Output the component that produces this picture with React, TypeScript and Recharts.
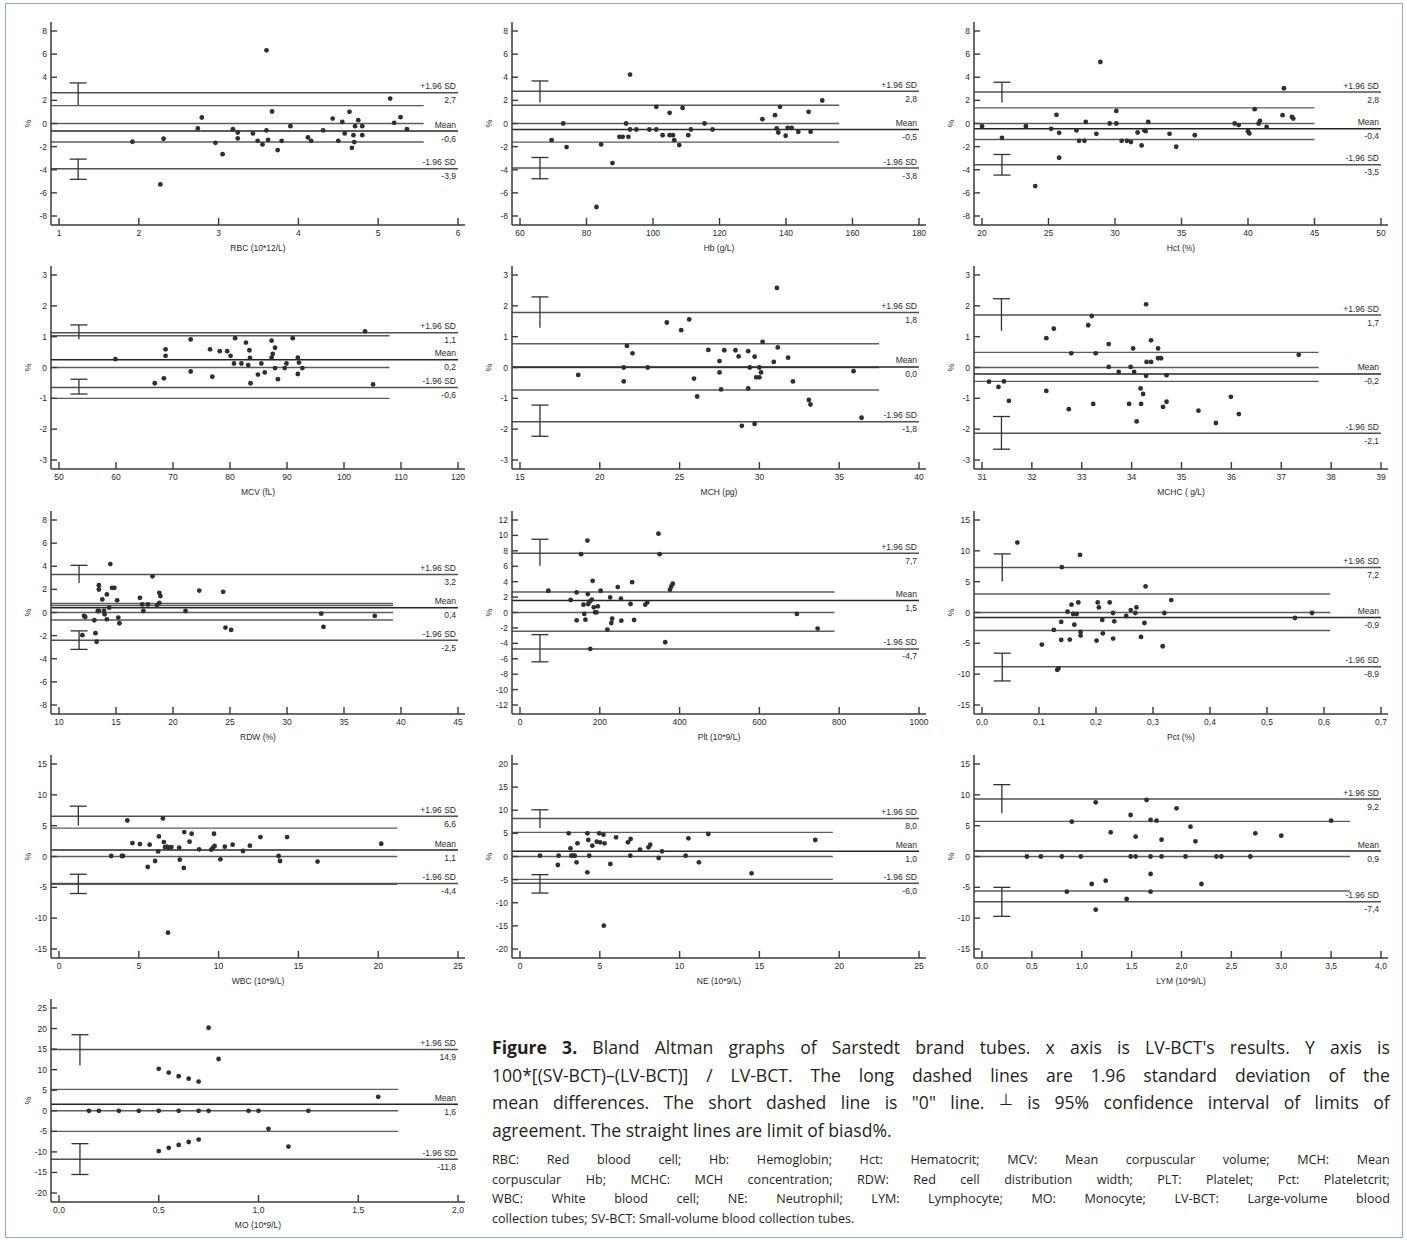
import React from 'react';
import { ScatterChart, Scatter, XAxis, YAxis, ReferenceLine, ReferenceDot } from 'recharts';

type P2 = [number, number];

// ---------- data ----------
const rbcPoints: P2[] = [[1.92,-1.58],[2.31,-1.32],[2.27,-5.27],[2.74,-0.43],[2.79,0.52],[2.96,-1.67],[3.05,-2.65],[3.18,-0.49],[3.24,-0.78],[3.24,-1.29],[3.43,-0.86],[3.49,-1.5],[3.55,-1.81],[3.6,-0.6],[3.6,6.33],[3.62,-1.41],[3.67,1.04],[3.74,-2.3],[3.79,-1.5],[3.9,-0.23],[4.12,-1.21],[4.16,-1.5],[4.31,-0.6],[4.43,0.43],[4.5,-1.5],[4.55,0.14],[4.58,-0.86],[4.64,1.01],[4.67,-2.1],[4.69,-1.01],[4.7,-1.61],[4.71,-0.23],[4.75,0.29],[4.8,-0.23],[4.8,-1.01],[5.15,2.16],[5.2,0.06],[5.28,0.55],[5.36,-0.49]];
const hbPoints: P2[] = [[69.5,-1.44],[73,0],[74,-2.04],[83,-7.22],[84.4,-1.81],[87.8,-3.42],[89.9,-1.15],[90.9,-1.15],[91.9,0],[92.6,-1.15],[93.1,-0.52],[93.1,4.23],[95,-0.52],[98.9,-0.52],[101,1.44],[101,-0.52],[102.9,-1.01],[105,0.92],[105,-1.01],[106,-1.01],[106.4,-1.44],[107.9,-1.87],[108.9,1.35],[110.6,-1.01],[111.4,-0.52],[115.5,0],[117.9,-0.52],[132.9,0.37],[136.7,0.72],[137.2,-0.43],[137.7,-0.78],[138.2,1.44],[139.9,-1.06],[140.5,-0.37],[141.7,-0.37],[143.7,-0.72],[146.8,1.01],[147.4,-0.72],[150.9,1.99]];
const hctPoints: P2[] = [[20,-0.23],[21.5,-1.24],[23.3,-0.23],[24,-5.41],[25.2,-0.46],[25.6,0.75],[25.8,-0.81],[25.8,-2.96],[27.1,-0.6],[27.3,-1.5],[27.7,-1.5],[27.8,0.14],[28.6,-0.89],[28.9,5.32],[29.6,0],[30.1,0],[30.1,1.09],[30.5,-1.5],[30.9,-1.5],[31.2,-1.61],[31.7,-0.78],[32,-1.9],[32.2,-0.58],[32.3,-0.66],[32.5,0.14],[34.1,-0.89],[34.6,-2.01],[36,-1.01],[39,0],[39.3,-0.14],[40,-0.66],[40.1,-0.86],[40.5,1.24],[40.8,0],[40.9,0.23],[41.4,-0.29],[42.6,0.72],[42.7,3.05],[43.3,0.58],[43.4,0.43]];
const mcvPoints: P2[] = [[59.9,0.27],[66.8,-0.51],[68.4,-0.35],[68.7,0.38],[68.7,0.59],[73.1,0.91],[73.1,-0.13],[76.5,0.59],[76.9,-0.3],[78.2,0.53],[79.5,0.53],[80.1,0.38],[80.7,0.13],[80.9,0.95],[82,0.13],[82.8,0.81],[83.2,0.08],[83.4,0.56],[83.5,0.31],[83.6,-0.51],[85.5,0.13],[84.9,-0.23],[86.1,-0.16],[87.3,0.87],[87.3,0.32],[87.5,0.44],[87.9,0.64],[87.9,-0.02],[88.4,-0.38],[89.6,-0.02],[89.9,0.13],[91,0.95],[91.9,0.32],[91.9,-0.21],[92.1,0.16],[92.7,-0.02],[103.7,1.17],[105.1,-0.55]];
const mchPoints: P2[] = [[18.65,-0.24],[21.5,0],[21.5,-0.45],[21.7,0.7],[22.05,0.46],[23,0],[24.2,1.46],[25.1,1.21],[25.6,1.56],[25.9,-0.36],[26.1,-0.94],[26.8,0.57],[27.5,-0.16],[27.5,0.21],[27.6,-0.71],[27.8,0.56],[28.5,0.56],[28.7,0.36],[28.9,-1.89],[29.3,-0.68],[29.3,0.53],[29.4,0],[29.7,0.35],[29.7,-1.83],[29.8,-0.32],[30,-0.32],[30,0],[30.1,-0.16],[30.2,0.83],[30.9,0.18],[31.1,2.58],[31.15,0.65],[31.8,0.32],[32.1,-0.45],[33.1,-1.05],[33.2,-1.2],[35.9,-0.12],[36.4,-1.63]];
const mchcPoints: P2[] = [[31.14,-0.46],[31.33,-0.63],[31.44,-0.45],[31.54,-1.08],[32.29,0.95],[32.29,-0.76],[32.44,1.26],[32.74,-1.35],[32.79,0.46],[33.13,1.37],[33.2,1.67],[33.23,-1.18],[33.28,0.46],[33.54,0.76],[33.54,0.02],[33.74,-0.14],[33.95,-1.18],[33.98,0.02],[34.03,0.62],[34.05,-0.14],[34.1,-1.75],[34.18,-0.68],[34.19,-1.18],[34.23,-0.86],[34.29,2.05],[34.29,-0.27],[34.3,0.18],[34.39,0.18],[34.39,0.88],[34.53,0.62],[34.53,0.3],[34.59,0.3],[34.63,-1.28],[34.7,-1.11],[34.7,-0.25],[35.34,-1.4],[35.69,-1.8],[35.99,-0.95],[36.15,-1.51],[37.35,0.41]];
const rdwPoints: P2[] = [[12.2,-0.3],[12.3,-0.39],[12.05,-1.96],[13.1,-0.67],[13.2,-1.79],[13.3,-2.53],[13.4,0.13],[13.5,0.13],[13.5,2.36],[13.5,1.99],[13.8,1.13],[13.95,0.13],[14,-0.16],[14.2,1.56],[14.2,-0.59],[14.4,0.42],[14.5,4.19],[14.65,2.13],[14.86,2.13],[15.1,1.05],[15.2,-0.44],[15.3,-0.93],[17.1,1.27],[17.3,0.7],[17.4,0.13],[17.8,0.7],[18.2,3.13],[18.6,0.64],[18.8,0.84],[18.8,1.7],[18.9,1.42],[21.1,0.13],[22.3,1.9],[24.4,1.79],[24.6,-1.3],[25.1,-1.51],[33,-0.1],[33.2,-1.25],[37.7,-0.3]];
const pltPoints: P2[] = [[71,2.82],[127,1.62],[142,2.61],[142,-1.01],[153,7.56],[159,1.01],[161,-0.19],[164,-0.93],[169,9.33],[170,2.39],[171,1.1],[175,1.44],[176,-4.72],[180,1.66],[182,4.11],[185,0.67],[188,0.02],[192,0.02],[195,0.8],[202,2.82],[219,-2.22],[226,1.96],[229,-1.36],[231,-0.8],[245,3.3],[253,1.79],[254,-1.06],[277,1.1],[281,3.94],[286,-0.97],[314,1.01],[319,1.31],[347,10.23],[350,7.56],[364,-3.86],[376,2.95],[379,3.38],[383,3.73],[694,-0.19],[746,-2.09]];
const pctPoints: P2[] = [[0.062,11.34],[0.105,-5.2],[0.126,-2.83],[0.132,-9.29],[0.134,-9.07],[0.139,-1.53],[0.139,-4.44],[0.14,7.35],[0.15,0.13],[0.154,-4.39],[0.157,1.27],[0.16,-0.24],[0.162,-1.97],[0.166,-0.24],[0.169,1.64],[0.172,9.34],[0.173,-3.15],[0.173,-3.74],[0.201,-4.55],[0.203,1.64],[0.205,0.83],[0.211,-1.21],[0.212,-3.37],[0.224,1.64],[0.23,-0.08],[0.23,-4.23],[0.232,-1.43],[0.253,-0.57],[0.261,0.4],[0.269,-0.08],[0.271,0.83],[0.279,-3.96],[0.285,-1.7],[0.287,4.23],[0.317,-5.47],[0.32,-0.08],[0.332,2.02],[0.549,-0.89],[0.579,-0.08]];
const wbcPoints: P2[] = [[3.27,0.08],[3.94,0.08],[4.01,0.08],[4.28,5.84],[4.6,2.18],[5.07,2.02],[5.56,-1.7],[5.68,1.91],[6.02,-0.73],[6.21,0.83],[6.26,3.26],[6.51,6.17],[6.57,2.34],[6.64,1.53],[6.76,1.59],[6.83,-12.36],[6.89,1.43],[7.04,1.53],[7.53,1.43],[7.57,-0.51],[7.82,-1.86],[7.85,3.96],[8.18,2.4],[8.31,3.69],[8.78,1.16],[9.54,1.1],[9.65,1.43],[9.71,3.69],[9.75,1.7],[10.11,-0.46],[10.39,1.59],[10.88,1.91],[11.53,0.89],[11.96,1.75],[12.62,3.15],[13.76,0.08],[13.85,-0.73],[14.29,3.15],[16.2,-0.83],[20.19,2.07]];
const nePoints: P2[] = [[1.25,0.18],[2.37,-1.84],[2.42,0.18],[3.05,5.01],[3.16,1.76],[3.22,0.18],[3.33,0.18],[3.43,0.18],[3.54,-1.26],[3.6,2.85],[4.22,5.01],[4.22,-3.42],[4.28,3.57],[4.34,0.18],[4.53,2.34],[4.81,3.21],[4.96,5.01],[5.02,3.06],[5.23,4.72],[5.3,2.85],[5.25,-14.95],[5.66,-1.62],[6.02,4.14],[6.76,3.06],[6.93,3.78],[6.91,0.18],[7.52,1.48],[8.05,1.98],[8.16,2.56],[8.69,-0.32],[8.9,1.12],[10.38,0.18],[10.55,3.93],[11.21,-1.26],[11.8,4.86],[14.51,-3.64],[18.5,3.57]];
const lymPoints: P2[] = [[0.45,0],[0.59,0],[0.8,0],[0.85,-5.7],[0.9,5.65],[0.99,0],[1.1,-4.46],[1.14,8.78],[1.14,-8.62],[1.24,-3.92],[1.29,3.92],[1.45,-6.89],[1.49,6.73],[1.49,0],[1.54,3.22],[1.54,0],[1.65,9.16],[1.69,0],[1.69,-2.84],[1.69,5.92],[1.69,-5.7],[1.75,5.81],[1.8,0],[1.8,2.73],[1.95,7.81],[2.04,0],[2.09,4.84],[2.14,2.46],[2.2,-4.46],[2.35,0],[2.4,0],[2.69,0],[2.74,3.76],[3,3.38],[3.5,5.81]];
const moPoints: P2[] = [[0.15,0],[0.2,0],[0.3,0],[0.4,0],[0.5,0],[0.6,0],[0.7,0],[0.75,0],[0.95,0],[1.0,0],[1.25,0],[0.5,10.2],[0.55,9.3],[0.6,8.4],[0.65,7.8],[0.7,7.1],[0.5,-9.8],[0.55,-9],[0.6,-8.3],[0.65,-7.6],[0.7,-7],[0.75,20.2],[0.8,12.6],[1.05,-4.4],[1.15,-8.7],[1.6,3.4]];

// tick arrays
const rbcXTicks = [1, 2, 3, 4, 5, 6];
const hbXTicks = [60, 80, 100, 120, 140, 160, 180];
const hctXTicks = [20, 25, 30, 35, 40, 45, 50];
const mcvXTicks = [50, 60, 70, 80, 90, 100, 110, 120];
const mchXTicks = [15, 20, 25, 30, 35, 40];
const mchcXTicks = [31, 32, 33, 34, 35, 36, 37, 38, 39];
const rdwXTicks = [10, 15, 20, 25, 30, 35, 40, 45];
const pltXTicks = [0, 200, 400, 600, 800, 1000];
const pctXTicks = [0, 0.1, 0.2, 0.3, 0.4, 0.5, 0.6, 0.7];
const wbcXTicks = [0, 5, 10, 15, 20, 25];
const neXTicks = [0, 5, 10, 15, 20, 25];
const lymXTicks = [0, 0.5, 1, 1.5, 2, 2.5, 3, 3.5, 4];
const moXTicks = [0, 0.5, 1, 1.5, 2];

const yTicks8 = [-8, -6, -4, -2, 0, 2, 4, 6, 8];
const yTicks3 = [-3, -2, -1, 0, 1, 2, 3];
const yTicks12 = [-12, -10, -8, -6, -4, -2, 0, 2, 4, 6, 8, 10, 12];
const yTicks15 = [-15, -10, -5, 0, 5, 10, 15];
const yTicks20 = [-20, -15, -10, -5, 0, 5, 10, 15, 20];
const yTicks25 = [-20, -15, -10, -5, 0, 5, 10, 15, 20, 25];

// [ +1.96 SD, mean, -1.96 SD ]
const rbcLimits = [2.65, -0.65, -3.92];
const hbLimits = [2.78, -0.52, -3.85];
const hctLimits = [2.72, -0.46, -3.57];
const mcvLimits = [1.13, 0.25, -0.65];
const mchLimits = [1.78, 0.02, -1.76];
const mchcLimits = [1.7, -0.21, -2.13];
const rdwLimits = [3.28, 0.42, -2.4];
const pltLimits = [7.69, 1.57, -4.72];
const pctLimits = [7.3, -0.83, -8.8];
const wbcLimits = [6.54, 1.05, -4.39];
const neLimits = [8.2, 1.12, -5.8];
const lymLimits = [9.32, 0.89, -7.32];
const moLimits = [14.9, 1.6, -11.8];

const rbcLimitText = ['2,7', '-0,6', '-3,9'];
const hbLimitText = ['2,8', '-0,5', '-3,8'];
const hctLimitText = ['2,8', '-0,4', '-3,5'];
const mcvLimitText = ['1,1', '0,2', '-0,6'];
const mchLimitText = ['1,8', '0,0', '-1,8'];
const mchcLimitText = ['1,7', '-0,2', '-2,1'];
const rdwLimitText = ['3,2', '0,4', '-2,5'];
const pltLimitText = ['7,7', '1,5', '-4,7'];
const pctLimitText = ['7,2', '-0,9', '-8,9'];
const wbcLimitText = ['6,6', '1,1', '-4,4'];
const neLimitText = ['8,0', '1,0', '-6,0'];
const lymLimitText = ['9,2', '0,9', '-7,4'];
const moLimitText = ['14,9', '1,6', '-11,8'];

// bias limit lines and zero line (shorter lines), with their right end
const rbcBias = [1.55, 0, -1.6];
const hbBias = [1.58, 0, -1.61];
const hctBias = [1.35, 0, -1.38];
const mcvBias = [1.03, 0, -1.0];
const mchBias = [0.77, 0, -0.73];
const mchcBias = [0.49, 0, -0.45];
const rdwBias = [0.78, 0.6, 0, -0.65];
const pltBias = [2.65, 0, -2.43];
const pctBias = [2.99, 0, -2.93];
const wbcBias = [4.6, 0, -4.5];
const neBias = [5.22, 0, -4.94];
const lymBias = [5.7, 0, -5.6];
const moBias = [5.2, 0, -5.0];
const biasEnds = [5.57, 156, 45, 108, 37.5, 37.75, 39.3, 788, 0.611, 21.2, 19.6, 3.69, 1.7];

// 95% CI of limits: [x, upperTop, upperBottom, lowerTop, lowerBottom]
const rbcCI = [1.24, 3.51, 1.58, -3.08, -4.83];
const hbCI = [66, 3.68, 1.81, -2.94, -4.78];
const hctCI = [21.5, 3.57, 1.81, -2.68, -4.46];
const mcvCI = [53.5, 1.38, 0.92, -0.38, -0.86];
const mchCI = [16.25, 2.29, 1.29, -1.22, -2.23];
const mchcCI = [31.39, 2.23, 1.19, -1.59, -2.65];
const rdwCI = [11.76, 4.08, 2.56, -1.59, -3.19];
const pltCI = [50, 9.5, 6.05, -2.87, -6.4];
const pctCI = [0.0355, 9.5, 5.03, -6.6, -11.1];
const wbcCI = [1.21, 8.16, 5.03, -2.88, -6.0];
const neCI = [1.25, 10.1, 6.16, -3.93, -7.9];
const lymCI = [0.199, 11.65, 7.0, -5.0, -9.7];
const moCI = [0.105, 18.5, 11, -8, -15.5];

const axisNames = ['RBC (10*12/L)', 'Hb (g/L)', 'Hct (%)', 'MCV (fL)', 'MCH (pg)', 'MCHC ( g/L)', 'RDW (%)', 'Plt (10*9/L)', 'Pct (%)', 'WBC (10*9/L)', 'NE (10*9/L)', 'LYM (10*9/L)', 'MO (10*9/L)'];

type Panel = {
  name: string; pts: P2[]; xTicks: number[]; yTicks: number[]; xDec: number;
  limits: number[]; limitText: string[]; bias: number[]; biasEnd: number; ci: number[];
};

const panels: Panel[] = [
  { name: axisNames[0], pts: rbcPoints, xTicks: rbcXTicks, yTicks: yTicks8, xDec: 0, limits: rbcLimits, limitText: rbcLimitText, bias: rbcBias, biasEnd: biasEnds[0], ci: rbcCI },
  { name: axisNames[1], pts: hbPoints, xTicks: hbXTicks, yTicks: yTicks8, xDec: 0, limits: hbLimits, limitText: hbLimitText, bias: hbBias, biasEnd: biasEnds[1], ci: hbCI },
  { name: axisNames[2], pts: hctPoints, xTicks: hctXTicks, yTicks: yTicks8, xDec: 0, limits: hctLimits, limitText: hctLimitText, bias: hctBias, biasEnd: biasEnds[2], ci: hctCI },
  { name: axisNames[3], pts: mcvPoints, xTicks: mcvXTicks, yTicks: yTicks3, xDec: 0, limits: mcvLimits, limitText: mcvLimitText, bias: mcvBias, biasEnd: biasEnds[3], ci: mcvCI },
  { name: axisNames[4], pts: mchPoints, xTicks: mchXTicks, yTicks: yTicks3, xDec: 0, limits: mchLimits, limitText: mchLimitText, bias: mchBias, biasEnd: biasEnds[4], ci: mchCI },
  { name: axisNames[5], pts: mchcPoints, xTicks: mchcXTicks, yTicks: yTicks3, xDec: 0, limits: mchcLimits, limitText: mchcLimitText, bias: mchcBias, biasEnd: biasEnds[5], ci: mchcCI },
  { name: axisNames[6], pts: rdwPoints, xTicks: rdwXTicks, yTicks: yTicks8, xDec: 0, limits: rdwLimits, limitText: rdwLimitText, bias: rdwBias, biasEnd: biasEnds[6], ci: rdwCI },
  { name: axisNames[7], pts: pltPoints, xTicks: pltXTicks, yTicks: yTicks12, xDec: 0, limits: pltLimits, limitText: pltLimitText, bias: pltBias, biasEnd: biasEnds[7], ci: pltCI },
  { name: axisNames[8], pts: pctPoints, xTicks: pctXTicks, yTicks: yTicks15, xDec: 1, limits: pctLimits, limitText: pctLimitText, bias: pctBias, biasEnd: biasEnds[8], ci: pctCI },
  { name: axisNames[9], pts: wbcPoints, xTicks: wbcXTicks, yTicks: yTicks15, xDec: 0, limits: wbcLimits, limitText: wbcLimitText, bias: wbcBias, biasEnd: biasEnds[9], ci: wbcCI },
  { name: axisNames[10], pts: nePoints, xTicks: neXTicks, yTicks: yTicks20, xDec: 0, limits: neLimits, limitText: neLimitText, bias: neBias, biasEnd: biasEnds[10], ci: neCI },
  { name: axisNames[11], pts: lymPoints, xTicks: lymXTicks, yTicks: yTicks15, xDec: 1, limits: lymLimits, limitText: lymLimitText, bias: lymBias, biasEnd: biasEnds[11], ci: lymCI },
  { name: axisNames[12], pts: moPoints, xTicks: moXTicks, yTicks: yTicks25, xDec: 1, limits: moLimits, limitText: moLimitText, bias: moBias, biasEnd: biasEnds[12], ci: moCI },
];

// ---------- layout / style ----------
const FONT = '"Liberation Sans", Arial, sans-serif';
const AXIS = '#3a3a3a';
const TXT = '#2a2a2a';
const LINE = '#505050';
const PLOT_W = 414, PLOT_H = 203, PAD_L = 8, PAD_R = 7, PAD_T = 9, PAD_B = 9;
const YAXIS_W = 45, XAXIS_H = 26, M_TOP = 10, M_RIGHT = 5, M_BOTTOM = 6;
const COL_X = [51, 512, 974];
const ROW_Y = [22, 266, 511, 755, 999];

const fmt = (v: number, dec: number) => v.toFixed(dec).replace('.', ',');

const makeXTick = (dec: number) => (props: any) => {
  const { x, y, payload } = props;
  return (
    <g>
      <line x1={x} y1={y} x2={x} y2={y - 7} stroke={AXIS} strokeWidth={1.4} />
      <text x={x} y={y + 10.5} textAnchor="middle" fontSize={8.5} fill={TXT} fontFamily={FONT}>{fmt(payload.value, dec)}</text>
    </g>
  );
};

const YTick = (props: any) => {
  const { x, y, payload } = props;
  return (
    <g>
      <line x1={x} y1={y} x2={x + 6} y2={y} stroke={AXIS} strokeWidth={1.4} />
      <text x={x - 4} y={y + 3} textAnchor="end" fontSize={8.5} fill={TXT} fontFamily={FONT}>{fmt(payload.value, 0)}</text>
    </g>
  );
};

function BAPanel({ p, left, top }: { p: Panel; left: number; top: number }) {
  const t0 = p.xTicks[0], t1 = p.xTicks[p.xTicks.length - 1];
  const ux = (t1 - t0) / (PLOT_W - PAD_L - PAD_R);
  const xDomain = [t0 - PAD_L * ux, t1 + PAD_R * ux];
  const s0 = p.yTicks[0], s1 = p.yTicks[p.yTicks.length - 1];
  const uy = (s1 - s0) / (PLOT_H - PAD_T - PAD_B);
  const yDomain = [s0 - PAD_B * uy, s1 + PAD_T * uy];
  const data = p.pts.map(([x, y]) => ({ x, y }));
  const xs = xDomain[0];
  const capHalf = 8.5 * ux;
  const [cx, uTop, uBot, lTop, lBot] = p.ci;
  const labelNames = ['+1.96 SD', 'Mean', '-1.96 SD'];
  const seg = (x1: number, y1: number, x2: number, y2: number, key: string, color = LINE, w = 1.4) => (
    <ReferenceLine key={key} segment={[{ x: x1, y: y1 }, { x: x2, y: y2 }]} stroke={color} strokeWidth={w} ifOverflow="visible" />
  );
  return (
    <div style={{ position: 'absolute', left: left - YAXIS_W, top: top - M_TOP }}>
      <ScatterChart
        width={YAXIS_W + PLOT_W + M_RIGHT}
        height={M_TOP + PLOT_H + XAXIS_H + M_BOTTOM}
        margin={{ top: M_TOP, right: M_RIGHT, bottom: M_BOTTOM, left: 0 }}
      >
        <XAxis
          type="number" dataKey="x" domain={xDomain} ticks={p.xTicks} allowDataOverflow interval={0}
          height={XAXIS_H} tickSize={0} tickMargin={0} tickLine={false}
          axisLine={{ stroke: AXIS, strokeWidth: 1.5 }} tick={makeXTick(p.xDec)}
          label={{ value: p.name, position: 'insideBottom', offset: 0, fontSize: 8.5, fill: TXT, fontFamily: FONT }}
        />
        <YAxis
          type="number" dataKey="y" domain={yDomain} ticks={p.yTicks} allowDataOverflow interval={0}
          width={YAXIS_W} tickSize={0} tickMargin={0} tickLine={false}
          axisLine={{ stroke: AXIS, strokeWidth: 1.5 }} tick={YTick}
          label={{ value: '%', angle: -90, position: 'center', dx: -1, fontSize: 9, fill: TXT, fontFamily: FONT }}
        />
        {p.bias.map((v, i) => seg(xs, v, p.biasEnd, v, 'b' + i, '#5c5c5c', 1.4))}
        {p.limits.map((v, i) => seg(xs, v, t1, v, 'l' + i, i === 1 ? '#262626' : LINE, 1.5))}
        {seg(cx, uTop, cx, uBot, 'ciu', '#333', 1.3)}
        {seg(cx - capHalf, uTop, cx + capHalf, uTop, 'ciuc', '#333', 1.3)}
        {seg(cx, lTop, cx, lBot, 'cil', '#333', 1.3)}
        {seg(cx - capHalf, lTop, cx + capHalf, lTop, 'cilt', '#333', 1.3)}
        {seg(cx - capHalf, lBot, cx + capHalf, lBot, 'cilb', '#333', 1.3)}
        {p.limits.map((v, i) => (
          <ReferenceDot
            key={'t' + i} x={t1 - 2 * ux} y={v} r={0} ifOverflow="visible"
            shape={(sp: any) => (
              <g>
                <text x={sp.cx} y={sp.cy - 3.5} textAnchor="end" fontSize={8.5} fill={TXT} fontFamily={FONT}>{labelNames[i]}</text>
                <text x={sp.cx} y={sp.cy + 10.5} textAnchor="end" fontSize={8.5} fill={TXT} fontFamily={FONT}>{p.limitText[i]}</text>
              </g>
            )}
          />
        ))}
        <Scatter
          data={data} isAnimationActive={false}
          shape={(sp: any) => <circle cx={sp.cx} cy={sp.cy} r={2.4} fill="#2f2f2f" />}
        />
      </ScatterChart>
    </div>
  );
}

type Word = { t: string; b?: boolean; sym?: boolean };
const words = (s: string): Word[] => s.split(' ').map((t) => ({ t }));

const captionLines: Word[][] = [
  [{ t: 'Figure', b: true }, { t: '3.', b: true }, ...words("Bland Altman graphs of Sarstedt brand tubes. x axis is LV-BCT's results. Y axis is")],
  words('100*[(SV-BCT)–(LV-BCT)] / LV-BCT. The long dashed lines are 1.96 standard deviation of the'),
  [...words('mean differences. The short dashed line is "0" line.'), { t: '⊥', sym: true }, ...words('is 95% confidence interval of limits of')],
];
const captionLast = 'agreement. The straight lines are limit of biasd%.';
const abbrevLines = [
  'RBC: Red blood cell; Hb: Hemoglobin; Hct: Hematocrit; MCV: Mean corpuscular volume; MCH: Mean',
  'corpuscular Hb; MCHC: MCH concentration; RDW: Red cell distribution width; PLT: Platelet; Pct: Plateletcrit;',
  'WBC: White blood cell; NE: Neutrophil; LYM: Lymphocyte; MO: Monocyte; LV-BCT: Large-volume blood',
];
const abbrevLast = 'collection tubes; SV-BCT: Small-volume blood collection tubes.';

const CAP_FONT = '"Open Sans", "Noto Sans", sans-serif';

function JLine({ ws, size, lh }: { ws: Word[]; size: number; lh: number }) {
  return (
    <div style={{ display: 'flex', justifyContent: 'space-between', whiteSpace: 'nowrap', fontSize: size, height: lh, lineHeight: lh + 'px' }}>
      {ws.map((w, i) => (
        <span key={i} style={{ fontWeight: w.b ? 700 : 400, fontSize: w.sym ? size * 0.9 : size, position: 'relative', top: w.sym ? -3 : 0 }}>{w.t}</span>
      ))}
    </div>
  );
}

function Caption() {
  const CS = 17.6, CL = 27.5, SS = 12.6, SL = 19.5;
  return (
    <div style={{ position: 'absolute', left: 492, top: 1034, width: 898, fontFamily: CAP_FONT, color: '#231f20' }}>
      {captionLines.map((ws, i) => <JLine key={i} ws={ws} size={CS} lh={CL} />)}
      <div style={{ fontSize: CS, height: CL, lineHeight: CL + 'px', whiteSpace: 'nowrap' }}>{captionLast}</div>
      <div style={{ height: 6 }} />
      {abbrevLines.map((s, i) => <JLine key={i} ws={words(s)} size={SS} lh={SL} />)}
      <div style={{ fontSize: SS, height: SL, lineHeight: SL + 'px', whiteSpace: 'nowrap' }}>{abbrevLast}</div>
    </div>
  );
}

export default function App() {
  return (
    <div style={{ position: 'absolute', left: 0, top: 0, width: 1407, height: 1240, background: '#fff', overflow: 'hidden' }}>
      <div style={{ position: 'absolute', left: 5, top: 3, width: 1396, height: 1233, border: '1px solid #8fa9cb' }} />
      {panels.map((p, i) => (
        <BAPanel key={i} p={p} left={COL_X[i % 3]} top={ROW_Y[Math.floor(i / 3)]} />
      ))}
      <Caption />
    </div>
  );
}
